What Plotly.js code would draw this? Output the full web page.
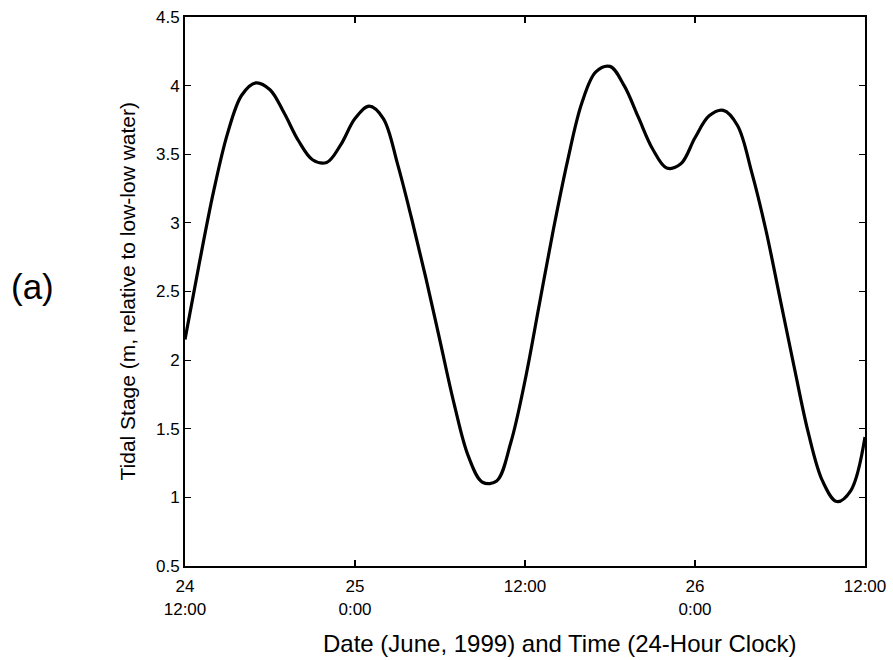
<!DOCTYPE html>
<html>
<head>
<meta charset="utf-8">
<script src="https://cdn.plot.ly/plotly-3.0.1.min.js"></script>
<style>html,body{margin:0;padding:0;background:#fff;}#chart{width:893px;height:660px;}</style>
</head>
<body>
<div id="chart"></div>
<script>
// Hours since 24 June 1999 12:00
const hours = [0,1,2,3,4,5,6,7,8,9,10,11,12,13,14,15,16,17,18,19,20,21,22,23,24,25,26,27,28,29,30,31,32,33,34,35,36,37,38,39,40,41,42,43,44,45,46,47,48];
// Tidal stage (m, relative to low-low water)
const stage = [2.15,2.70,3.22,3.65,3.93,4.02,3.97,3.80,3.60,3.46,3.44,3.57,3.76,3.85,3.76,3.43,3.03,2.60,2.14,1.68,1.30,1.11,1.12,1.40,1.85,2.40,2.95,3.45,3.87,4.10,4.14,4.00,3.77,3.54,3.40,3.43,3.62,3.78,3.82,3.71,3.37,2.95,2.45,1.95,1.47,1.12,0.97,1.05,1.44];
const xTickVals = [0,12,24,36,48];
const xTickText = ['24<br>12:00','25<br>0:00','12:00','26<br>0:00','12:00'];
const yTickVals = [0.5,1,1.5,2,2.5,3,3.5,4,4.5];
const yTickText = ['0.5','1','1.5','2','2.5','3','3.5','4','4.5'];

const font = 'Liberation Sans, Arial, Helvetica, sans-serif';
const trace = {
  x: hours, y: stage, type: 'scatter', mode: 'lines',
  line: {color: '#000', width: 3.2, shape: 'spline', smoothing: 1},
  hoverinfo: 'skip'
};
const layout = {
  width: 893, height: 660,
  margin: {l: 185, r: 28, t: 17, b: 94},
  paper_bgcolor: '#fff', plot_bgcolor: '#fff',
  showlegend: false,
  font: {family: font, color: '#000', size: 17},
  xaxis: {
    range: [0, 48], tickvals: xTickVals, ticktext: xTickText,
    ticks: 'inside', ticklen: 6, tickwidth: 1.2, tickcolor: '#000',
    showline: true, linecolor: '#000', linewidth: 2, mirror: 'ticks',
    showgrid: false, zeroline: false, ticklabelstandoff: 4,
    tickfont: {family: font, size: 17, color: '#000'}
  },
  yaxis: {
    range: [0.5, 4.5], tickvals: yTickVals, ticktext: yTickText,
    ticks: 'inside', ticklen: 6, tickwidth: 1.2, tickcolor: '#000',
    showline: true, linecolor: '#000', linewidth: 2, mirror: 'ticks',
    showgrid: false, zeroline: false,
    tickfont: {family: font, size: 17, color: '#000'}
  },
  annotations: [
    {text: 'Date (June, 1999) and Time (24-Hour Clock)', xref: 'paper', yref: 'paper',
     x: 0.5, xshift: 35, y: 0, yshift: -77, xanchor: 'center', yanchor: 'middle', showarrow: false,
     font: {family: font, size: 24, color: '#000'}},
    {text: 'Tidal Stage (m, relative to low-low water)', xref: 'paper', yref: 'paper',
     x: 0, xshift: -58, y: 0.5, xanchor: 'center', yanchor: 'middle', textangle: -90, showarrow: false,
     font: {family: font, size: 21, color: '#000'}},
    {text: '(a)', xref: 'paper', yref: 'paper',
     x: 0, xshift: -153, y: 0.5, yshift: 5, xanchor: 'center', yanchor: 'middle', showarrow: false,
     font: {family: font, size: 35, color: '#000'}}
  ]
};
Plotly.newPlot('chart', [trace], layout, {staticPlot: true, displayModeBar: false});
</script>
</body>
</html>
